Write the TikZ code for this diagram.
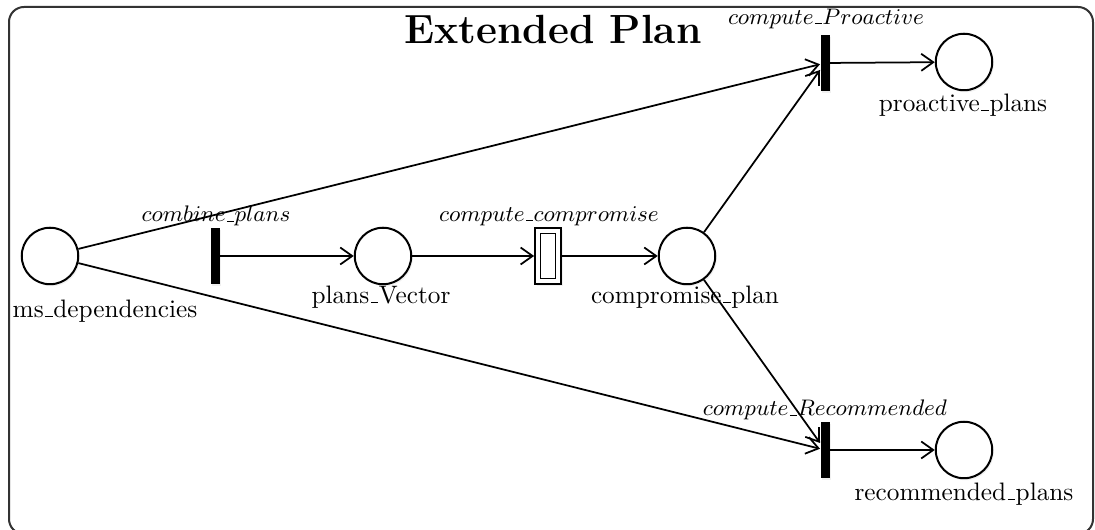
\documentclass[tikz,border=0pt]{standalone}
\usetikzlibrary{arrows.meta,shadows}
% short rule underscore, as in the classic OT1 \_
\newcommand{\usc}{\leavevmode\kern.06em\vbox{\hrule width.3em height .4pt}\kern.02em}
\begin{document}
\begin{tikzpicture}[x=0.4pt,y=-0.4pt,
  place/.style={circle,draw,line width=0.8pt,minimum size=22.6pt,inner sep=0pt,fill=white,
    drop shadow={opacity=0.12,shadow xshift=0.6pt,shadow yshift=-0.8pt}},
  trans/.style={rectangle,fill=black,minimum width=3.6pt,minimum height=22.4pt,inner sep=0pt,
    drop shadow={opacity=0.12,shadow xshift=0.6pt,shadow yshift=-0.8pt}},
  outerbox/.style={rectangle,draw,line width=0.7pt,fill=white,minimum width=10.4pt,minimum height=22.4pt,inner sep=0pt,
    drop shadow={opacity=0.12,shadow xshift=0.6pt,shadow yshift=-0.8pt}},
  innerbox/.style={rectangle,draw,line width=0.7pt,minimum width=6pt,minimum height=18pt,inner sep=0pt},
  lbl/.style={inner sep=0pt,font=\fontsize{10.1}{12}\selectfont},
  tlbl/.style={inner sep=0pt,font=\fontsize{9.3}{11}\selectfont},
  arc/.style={line width=0.7pt,-{Straight Barb[length=4.8pt,width=6.8pt,line width=0.7pt]}}]
\useasboundingbox (0,0) rectangle (1095,530);
\draw[line width=0.8pt,rounded corners=6pt,black!80] (9,7) rectangle (1093,534);

% title
\node[inner sep=0pt,font=\fontsize{16.3}{20}\selectfont\bfseries] (title) at (553,29) {Extended Plan};

% places
\node[place] (ms) at (50,256) {};
\node[place] (pv) at (383,256) {};
\node[place] (cp) at (687,256) {};
\node[place] (pp) at (964,62) {};
\node[place] (rp) at (964,450) {};

% transitions
\node[trans] (comb) at (215,256) {};
\node[outerbox] (comp) at (548,256) {};
\node[innerbox] (compin) at (548,256) {};
\node[trans] (cpro) at (825,63) {};
\node[trans] (crec) at (825,450) {};

% place labels
\node[lbl] (msl) at (105,311) {ms\usc dependencies};
\node[lbl] (pvl) at (381,297) {plans\usc Vector};
\node[lbl] (cpl) at (685,297) {compromise\usc plan};
\node[lbl] (ppl) at (963,105) {proactive\usc plans};
\node[lbl] (rpl) at (964,494) {recommended\usc plans};

% transition labels
\node[tlbl] (combl) at (216,216) {$combine\mbox{\usc}plans$};
\node[tlbl] (compl) at (549,216) {$compute\mbox{\usc}compromise$};
\node[tlbl] (cprol) at (826,19) {$compute\mbox{\usc}Proactive$};
\node[tlbl] (crecl) at (825,410) {$compute\mbox{\usc}Recommended$};

% arcs
\draw[arc] (ms) -- (cpro);
\draw[arc] (ms) -- (crec);
\draw[arc] (comb) -- (pv);
\draw[arc] (pv) -- (comp);
\draw[arc] (comp) -- (cp);
\draw[arc] (cp) -- (cpro);
\draw[arc] (cp) -- (crec);
\draw[arc] (cpro) -- (pp);
\draw[arc] (crec) -- (rp);
\end{tikzpicture}
\end{document}
